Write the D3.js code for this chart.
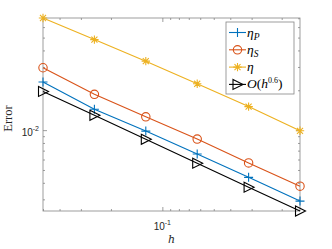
<!DOCTYPE html>
<html><head><meta charset="utf-8">
<script src="https://cdn.jsdelivr.net/npm/d3@7"></script>
<style>body{margin:0;background:#fff}svg{display:block}</style></head>
<body><svg id="c" width="332" height="249"></svg>
<script>
// ---- data ----
const hVals = [1/2, 1/4, 1/8, 1/16, 1/32, 1/64];
const etaP  = [0.02307, 0.01439, 0.00983, 0.00660, 0.00440, 0.00291];
const etaS  = [0.02960, 0.01865, 0.01260, 0.00856, 0.00565, 0.00377];
const eta   = [0.07030, 0.04830, 0.03320, 0.02240, 0.01506, 0.00988];
const refO  = [0.01960, 0.01293, 0.00853, 0.00563, 0.00371, 0.00245];
const xMinorTicks = [0.02,0.03,0.04,0.05,0.06,0.07,0.08,0.09,0.2,0.3,0.4,0.5];
const xMajorTicks = [0.1];
const yMinorTicks = [0.003,0.004,0.005,0.006,0.007,0.008,0.009,0.02,0.03,0.04,0.05,0.06,0.07];
const yMajorTicks = [0.01];
const xTickLabels = [["10","-1"]];
const yTickLabels = [["10","-2"]];

// ---- styles ----
const series = [
  {vals: etaP, color: "#0072BD", marker: "plus",  label: [["η","i"],["P","sub"]]},
  {vals: etaS, color: "#D95319", marker: "circle",label: [["η","i"],["S","sub"]]},
  {vals: eta,  color: "#EDB120", marker: "star",  label: [["η","i"]]},
  {vals: refO, color: "#000000", marker: "tri",   label: [["O","i"],["(",""],["h","i"],["0.6","sup"],[")",""]]}
];

const L = 43, R = 300, T = 18, B = 211;
const svg = d3.select("#c");
const allVals = [].concat(etaP, etaS, eta, refO);
const x = d3.scaleLog().domain([d3.max(hVals), d3.min(hVals)]).range([L, R]);
const y = d3.scaleLog().domain(d3.extent(allVals)).range([B, T]);

const axisColor = "#858585";
function axisG(gen, tx, ty, vals, len) {
  const g = svg.append("g").attr("transform", `translate(${tx},${ty})`)
    .call(gen.tickValues(vals).tickSizeInner(-len).tickSizeOuter(0).tickFormat(""));
  g.select(".domain").remove();
  g.selectAll(".tick line").attr("stroke", axisColor).attr("stroke-width", 0.8);
  return g;
}
[[2, xMinorTicks, yMinorTicks], [4, xMajorTicks, yMajorTicks]].forEach(([len, xv, yv]) => {
  axisG(d3.axisBottom(x), 0, B, xv, len);
  axisG(d3.axisTop(x), 0, T, xv, len);
  axisG(d3.axisLeft(y), L, 0, yv, len);
  axisG(d3.axisRight(y), R, 0, yv, len);
});
svg.append("rect").attr("x", L).attr("y", T).attr("width", R - L).attr("height", B - T)
  .attr("fill", "none").attr("stroke", axisColor).attr("stroke-width", 0.8);

// tick labels
xMajorTicks.forEach((v, i) => {
  const t = svg.append("text").attr("x", x(v)).attr("y", 230).attr("text-anchor", "middle")
    .attr("font-family", "Liberation Sans, Arial, sans-serif").attr("font-size", 10).attr("fill", "#262626");
  t.append("tspan").text(xTickLabels[i][0]);
  t.append("tspan").attr("dy", -5).attr("font-size", 7).text(xTickLabels[i][1]);
});
yMajorTicks.forEach((v, i) => {
  const t = svg.append("text").attr("x", 39).attr("y", y(v) + 6).attr("text-anchor", "end")
    .attr("font-family", "Liberation Sans, Arial, sans-serif").attr("font-size", 10).attr("fill", "#262626");
  t.append("tspan").text(yTickLabels[i][0]);
  t.append("tspan").attr("dy", -5).attr("font-size", 7).text(yTickLabels[i][1]);
});

// axis titles
svg.append("text").attr("x", (L + R) / 2).attr("y", 243).attr("text-anchor", "middle")
  .attr("font-family", "DejaVu Serif, serif").attr("font-style", "italic").attr("font-size", 11)
  .attr("fill", "#262626").text("h");
svg.append("text").attr("transform", `translate(12,${(T + B) / 2 + 4}) rotate(-90)`).attr("text-anchor", "middle")
  .attr("font-family", "Liberation Serif, serif").attr("font-size", 12.5)
  .attr("fill", "#262626").text("Error");

// markers
function drawMarker(g, type, cx, cy, color) {
  if (type === "plus") {
    g.append("path").attr("d", `M${cx-4.5},${cy}H${cx+4.5}M${cx},${cy-4.5}V${cy+4.5}`)
      .attr("stroke", color).attr("stroke-width", 1.1).attr("fill", "none");
  } else if (type === "circle") {
    g.append("circle").attr("cx", cx).attr("cy", cy).attr("r", 4.2)
      .attr("stroke", color).attr("stroke-width", 1.1).attr("fill", "none");
  } else if (type === "star") {
    const r = 4.2, d = r * 0.72;
    g.append("path").attr("d", `M${cx-r},${cy}H${cx+r}M${cx},${cy-r}V${cy+r}M${cx-d},${cy-d}L${cx+d},${cy+d}M${cx-d},${cy+d}L${cx+d},${cy-d}`)
      .attr("stroke", color).attr("stroke-width", 1.1).attr("fill", "none");
  } else if (type === "tri") {
    g.append("path").attr("d", `M${cx-4.5},${cy-5}L${cx+5.5},${cy}L${cx-4.5},${cy+5}Z`)
      .attr("stroke", color).attr("stroke-width", 1.1).attr("fill", "none");
  }
}

const line = d3.line().x(d => x(d[0])).y(d => y(d[1]));
series.forEach(s => {
  const pts = hVals.map((h, i) => [h, s.vals[i]]);
  const g = svg.append("g");
  g.append("path").attr("d", line(pts)).attr("fill", "none").attr("stroke", s.color).attr("stroke-width", 1.1);
  pts.forEach(p => drawMarker(g, s.marker, x(p[0]), y(p[1]), s.color));
});

// legend
const lg = svg.append("g");
lg.append("rect").attr("x", 226).attr("y", 22).attr("width", 68).attr("height", 72)
  .attr("fill", "#fff").attr("stroke", axisColor).attr("stroke-width", 0.8);
series.forEach((s, i) => {
  const yy = 32.5 + i * 17.3;
  lg.append("line").attr("x1", 229).attr("x2", 246).attr("y1", yy).attr("y2", yy)
    .attr("stroke", s.color).attr("stroke-width", 1.1);
  drawMarker(lg, s.marker, 237.5, yy, s.color);
  const t = lg.append("text").attr("x", 247).attr("y", yy + 4)
    .attr("font-family", "Liberation Serif, serif").attr("font-size", 13.5).attr("fill", "#000");
  s.label.forEach(([txt, st]) => {
    const sp = t.append("tspan").text(txt);
    if (st === "i") sp.attr("font-style", "italic");
    if (st === "sub") { sp.attr("font-style", "italic").attr("font-size", 9.5).attr("dy", 3); }
    if (st === "sup") { sp.attr("font-size", 8).attr("dy", -5.5); }
    if (st === "" && txt === ")") sp.attr("dy", 5.5);
  });
});
</script></body></html>
